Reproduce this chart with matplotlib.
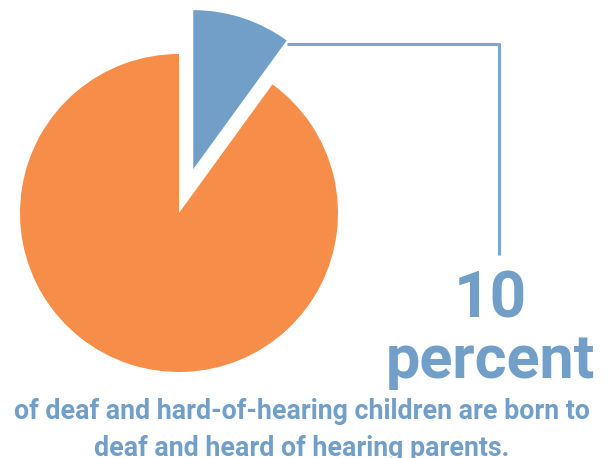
import matplotlib
matplotlib.use("Agg")
import matplotlib.pyplot as plt

labels = ["Born to deaf/HoH parents", "Born to hearing parents"]
values = [10, 90]
colors = ["#729FC8", "#F68D48"]

big_number = "10"
big_unit = "percent"
caption1 = "of deaf and hard-of-hearing children are born to"
caption2 = "deaf and heard of hearing parents."

W, H = 616, 458
R = 159
fig = plt.figure(figsize=(W / 100, H / 100), dpi=100)
ax = fig.add_axes([0, 0, 1, 1])
ax.axis("off")

# y axis is inverted (pixel-like coords): startangle -90 is visually up,
# counterclock=True in data coords is visually clockwise.
ax.pie(values, colors=colors, explode=[0.29 * R, 0.0], startangle=-90,
       counterclock=True, center=(179, 213), radius=R,
       wedgeprops=dict(linewidth=0))
ax.set_xlim(0, W)
ax.set_ylim(H, 0)
ax.set_aspect("equal")

line_c = "#7AA6D0"
ax.plot([287, 499, 499], [44, 44, 255], color=line_c, lw=2.2, solid_capstyle="butt")

blue = "#729FC8"
ax.text(490, 317, big_number, ha="center", va="baseline", fontsize=46,
        fontweight="bold", family="Roboto", color=blue)
ax.text(490, 378, big_unit, ha="center", va="baseline", fontsize=44,
        fontweight="bold", family="Roboto", color=blue)
ax.text(302, 419, caption1, ha="center", va="baseline", fontsize=19.3,
        fontweight="bold", family="Roboto", color=blue)
ax.text(302, 456, caption2, ha="center", va="baseline", fontsize=19.3,
        fontweight="bold", family="Roboto", color=blue)

fig.savefig("out.png", dpi=100)
